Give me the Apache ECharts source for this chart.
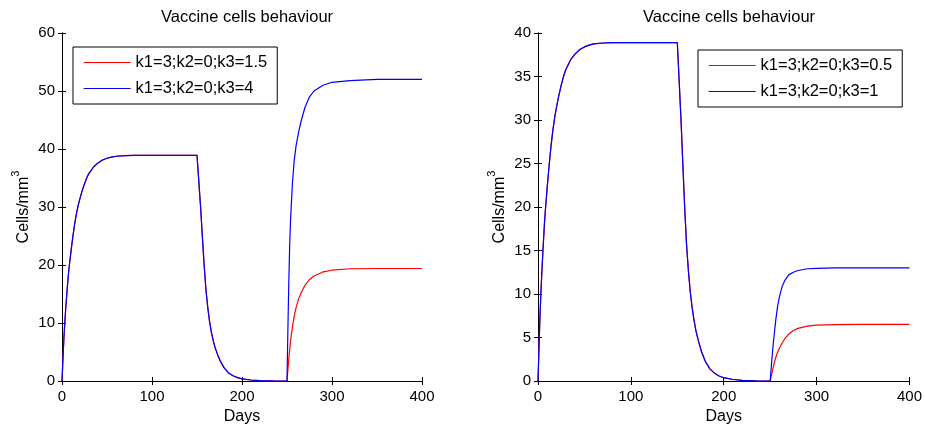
<!DOCTYPE html>
<html>
<head>
<meta charset="utf-8">
<script src="https://cdn.jsdelivr.net/npm/echarts@6/dist/echarts.min.js"></script>
<style>html,body{margin:0;padding:0;background:#fff}#c{width:925px;height:430px}</style>
</head>
<body>
<div id="c"></div>
<script>
// Shared vaccination / clearance phase (both curves coincide up to day 250)
var daysCommon = [0,1,2,3,4,5,6,7,8,10,12,14,16,18,20,22,25,28,30,35,40,45,50,55,60,70,80,100,120,150,
  151,152,153,154,156,158,160,162,164,166,168,170,173,176,180,185,190,195,200,210,220,235,250];
var cellsCommon = [0,3.6,7,9.8,12.2,14.3,16.3,18.2,19.7,22.4,24.8,27,28.8,30.3,31.5,32.6,34,35.2,35.8,36.9,37.6,38.1,38.4,38.6,38.75,38.85,38.9,38.9,38.9,38.9,
  36.7,34.5,32.2,30,24.8,19.8,15.6,12.6,10.2,8.4,7,5.8,4.5,3.4,2.3,1.4,0.9,0.58,0.38,0.17,0.07,0.02,0];
// Second phase (after day 250)
var daysRecovery = [251,252,253,254,256,258,260,263,266,270,275,280,290,300,320,350,400];
var leftRed   = [2,3.8,5.5,7,9.3,11.2,12.6,14.2,15.3,16.5,17.5,18.1,18.8,19.1,19.35,19.4,19.4];
var leftBlue  = [9,17,23.5,28,34,38,40.5,43,45,47.2,49,50,51,51.5,51.8,52,52];
var rightRed  = [0.5,1.0,1.45,1.9,2.7,3.3,3.8,4.4,4.9,5.4,5.8,6.05,6.3,6.42,6.48,6.5,6.5];
var rightBlue = [1.4,2.7,3.9,5.0,7.0,8.6,9.7,10.9,11.6,12.2,12.5,12.7,12.9,12.95,13,13,13];

var leftNames  = ['k1=3;k2=0;k3=1.5', 'k1=3;k2=0;k3=4'];
var rightNames = ['k1=3;k2=0;k3=0.5', 'k1=3;k2=0;k3=1'];
var titleText = 'Vaccine cells behaviour';
var xName = 'Days';

function build(rise) {
  var out = [];
  for (var i = 0; i < daysCommon.length; i++) out.push([daysCommon[i], cellsCommon[i]]);
  for (var j = 0; j < daysRecovery.length; j++) out.push([daysRecovery[j], rise[j]]);
  return out;
}

var FONT = 'Liberation Sans, Arial, Helvetica, sans-serif';
var axisLine = {show: true, lineStyle: {color: '#000', width: 1}};
var tick = {show: true, inside: true, length: 4, lineStyle: {color: '#000'}};
var lbl = {color: '#000', fontSize: 15, fontFamily: FONT};

function xBottom(g) {
  return {type: 'value', gridIndex: g, min: 0, max: 400, interval: 100, position: 'bottom',
    axisLine: axisLine, axisTick: tick, splitLine: {show: false},
    axisLabel: Object.assign({margin: 8}, lbl),
    name: xName, nameLocation: 'middle', nameGap: 28,
    nameTextStyle: {color: '#000', fontSize: 16, fontFamily: FONT}};
}
function xTop(g) {
  return {type: 'value', gridIndex: g, min: 0, max: 400, interval: 100, position: 'top',
    axisLine: axisLine, axisTick: tick, splitLine: {show: false}, axisLabel: {show: false}};
}
function yLeft(g, max, step) {
  return {type: 'value', gridIndex: g, min: 0, max: max, interval: step, position: 'left',
    axisLine: axisLine, axisTick: tick, splitLine: {show: false},
    axisLabel: Object.assign({margin: 7}, lbl),
    name: '{a|Cells/mm}{b|3}', nameLocation: 'middle', nameGap: 30,
    nameTextStyle: {color: '#000', fontFamily: FONT,
      rich: {a: {fontSize: 16, fontFamily: FONT, color: '#000', verticalAlign: 'bottom', lineHeight: 22},
             b: {fontSize: 11, fontFamily: FONT, color: '#000', verticalAlign: 'top', lineHeight: 22}}}};
}
function yRight(g, max, step) {
  return {type: 'value', gridIndex: g, min: 0, max: max, interval: step, position: 'right',
    axisLine: axisLine, axisTick: tick, splitLine: {show: false}, axisLabel: {show: false}};
}
function legend(names, left, top) {
  return {data: names, orient: 'vertical', left: left, top: top, itemWidth: 47, itemHeight: 4,
    itemGap: 9, itemTextGap: 8, padding: [7, 10, 7, 10], borderColor: '#000', borderWidth: 1,
    backgroundColor: '#fff', itemStyle: {opacity: 0}, lineStyle: {width: 1.2},
    textStyle: {color: '#000', fontSize: 16.5, fontFamily: FONT}};
}
function line(name, x, y, color, data) {
  return {name: name, type: 'line', xAxisIndex: x, yAxisIndex: y, data: data, symbol: 'none',
    lineStyle: {color: color, width: 1.2}, itemStyle: {color: color}, animation: false, z: 3};
}

var chart = echarts.init(document.getElementById('c'), null, {renderer: 'canvas'});
chart.setOption({
  backgroundColor: '#fff',
  animation: false,
  title: [
    {text: titleText, left: 242, top: 4, textAlign: 'center', textStyle: {fontSize: 16.5, fontWeight: 'normal', color: '#000', fontFamily: FONT}},
    {text: titleText, left: 724, top: 4, textAlign: 'center', textStyle: {fontSize: 16.5, fontWeight: 'normal', color: '#000', fontFamily: FONT}}
  ],
  grid: [
    {left: 62, top: 33, width: 360, height: 350},
    {left: 538, top: 33, width: 372, height: 350}
  ],
  xAxis: [xBottom(0), xTop(0), xBottom(1), xTop(1)],
  yAxis: [yLeft(0, 60, 10), yRight(0, 60, 10), yLeft(1, 40, 5), yRight(1, 40, 5)],
  legend: [legend(leftNames, 73, 47), legend(rightNames, 698, 50)],
  series: [
    line(leftNames[0], 0, 0, '#ff0000', build(leftRed)),
    line(leftNames[1], 0, 0, '#0000ff', build(leftBlue)),
    line(rightNames[0], 2, 2, '#ff0000', build(rightRed)),
    line(rightNames[1], 2, 2, '#0000ff', build(rightBlue))
  ]
});
</script>
</body>
</html>
